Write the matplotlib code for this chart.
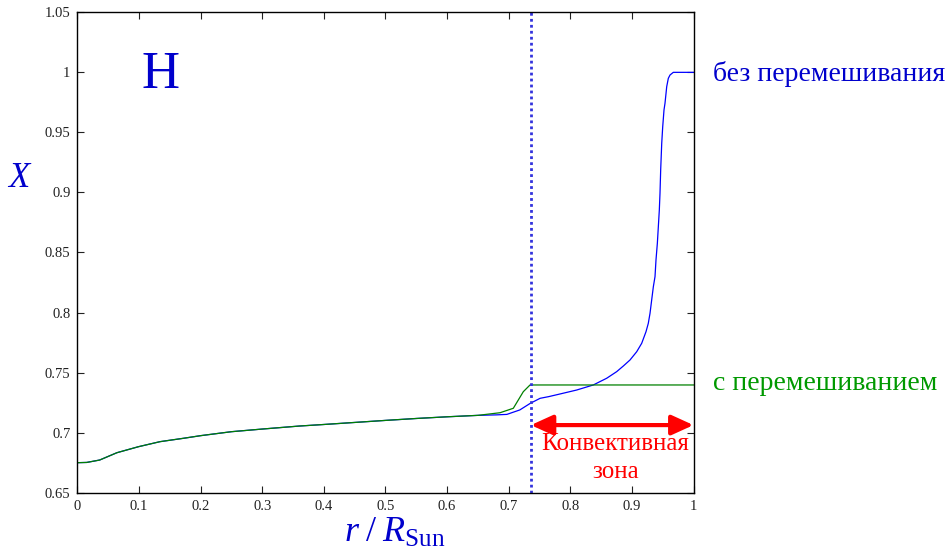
import matplotlib
matplotlib.use('Agg')
import matplotlib.pyplot as plt
from matplotlib.ticker import FuncFormatter

plt.rcParams['font.family'] = ['Liberation Serif', 'DejaVu Serif']
plt.rcParams['mathtext.fontset'] = 'custom'
plt.rcParams['mathtext.rm'] = 'Liberation Serif'
plt.rcParams['mathtext.it'] = 'Liberation Serif:italic'

# hydrogen mass fraction X vs r/Rsun
r_nomix = [0, 0.015, 0.036, 0.064, 0.099, 0.134, 0.172, 0.2, 0.25, 0.3, 0.36, 0.4,
           0.45, 0.5, 0.55, 0.6, 0.65, 0.68, 0.697, 0.718, 0.735, 0.751, 0.765,
           0.7833, 0.8104, 0.8373, 0.8591, 0.8753, 0.8861, 0.8969, 0.9078,
           0.9159, 0.9229, 0.9266, 0.9294, 0.9321, 0.9348, 0.9375, 0.9391,
           0.9413, 0.9429, 0.9445, 0.9456, 0.9467, 0.9484, 0.95, 0.9521, 0.9537,
           0.9554, 0.9565, 0.9591, 0.9619, 0.9672, 0.97, 1.0]
X_nomix = [0.675, 0.6752, 0.6772, 0.6833, 0.6883, 0.6925, 0.6953, 0.6975, 0.7008,
           0.7030, 0.7055, 0.7068, 0.7085, 0.7102, 0.7118, 0.7132, 0.7144, 0.7148,
           0.7152, 0.7189, 0.7244, 0.7286, 0.7300, 0.7322, 0.7355, 0.7397, 0.7453,
           0.7508, 0.7555, 0.7605, 0.7674, 0.7744, 0.7841, 0.7910, 0.7994, 0.8105,
           0.8215, 0.8299, 0.8438, 0.8577, 0.8715, 0.8854, 0.8993, 0.9187, 0.9409,
           0.9547, 0.9687, 0.9742, 0.9826, 0.9881, 0.9950, 0.9978, 1.0, 1.0, 1.0]

r_mix = [0, 0.015, 0.036, 0.064, 0.099, 0.134, 0.172, 0.2, 0.25, 0.3, 0.36, 0.4,
         0.45, 0.5, 0.55, 0.6, 0.65, 0.686, 0.7075, 0.7237, 0.7346, 1.0]
X_mix = [0.675, 0.6752, 0.6772, 0.6833, 0.6883, 0.6925, 0.6953, 0.6975, 0.7008,
         0.7030, 0.7055, 0.7068, 0.7085, 0.7102, 0.7118, 0.7132, 0.7144, 0.7166,
         0.7203, 0.7341, 0.7397, 0.7397]

conv_base = 0.737
arrow_span = [0.736, 1.0]
arrow_y = 0.7063

fig = plt.figure(figsize=(9.46, 5.51), dpi=100)
ax = fig.add_axes([0.0819, 0.1058, 0.6512, 0.8719])

ax.plot(r_nomix, X_nomix, color='#0000ff', lw=0.9)
ax.plot(r_mix, X_mix, color='#008000', lw=0.9)
ax.axvline(conv_base, color='#3333dd', lw=2.0, ls=(0, (1, 1.15)))

ax.annotate('', xy=(arrow_span[1], arrow_y), xytext=(arrow_span[0], arrow_y),
            arrowprops=dict(arrowstyle='<|-|>,head_length=0.55,head_width=0.25',
                            color='red', lw=3, mutation_scale=24,
                            shrinkA=0, shrinkB=0),
            annotation_clip=False)
ax.text(0.873, 0.6856, 'Конвективная', color='red', fontsize=18,
        ha='center', va='baseline')
ax.text(0.873, 0.662, 'зона', color='red', fontsize=18,
        ha='center', va='baseline')

ax.text(0.134, 0.987, 'H', color='#0000cc', fontsize=38, ha='center', va='baseline')
ax.text(1.0317, 0.9985, 'без перемешивания', color='#0000cc', fontsize=20,
        ha='left', va='center', clip_on=False)
ax.text(1.0317, 0.7413, 'с перемешиванием', color='#009900', fontsize=20,
        ha='left', va='center', clip_on=False)

fig.text(0.0211, 0.6606, '$X$', color='#0000cc', fontsize=25,
         ha='center', va='baseline')
fig.text(0.4175, 0.0169, r'$r\;/\;R_{\mathrm{Sun}}$', color='#0000cc',
         fontsize=26, ha='center', va='baseline')

ax.set_xlim(0, 1)
ax.set_ylim(0.65, 1.05)
ax.set_xticks([i / 10 for i in range(11)])
ax.set_yticks([0.65 + 0.05 * i for i in range(9)])
fmt = FuncFormatter(lambda v, p: '%g' % round(v, 2))
ax.xaxis.set_major_formatter(fmt)
ax.yaxis.set_major_formatter(fmt)
ax.tick_params(direction='in', top=True, right=True, length=5, width=0.8,
               labelsize=10.5, colors='#222222', pad=5)
for s in ax.spines.values():
    s.set_linewidth(1)

fig.savefig('out.png', dpi=100)
